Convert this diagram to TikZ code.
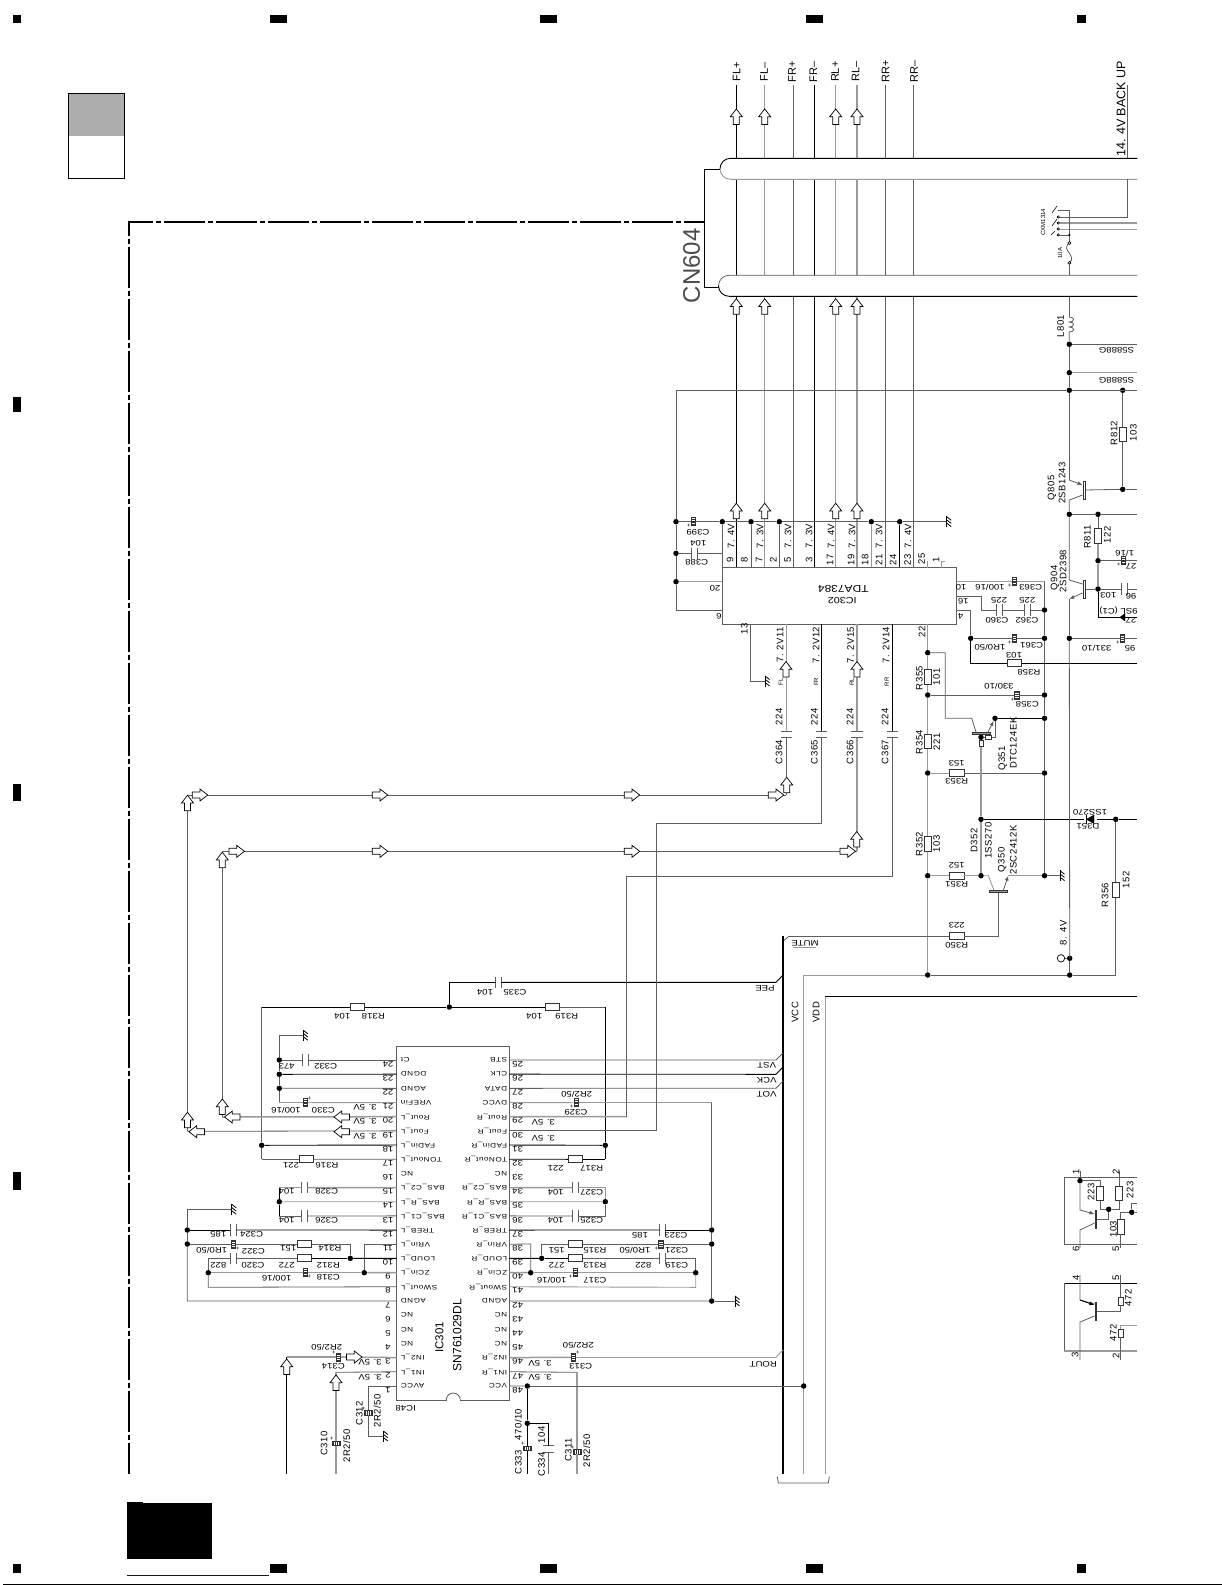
\documentclass[tikz,border=0pt]{standalone}
\usepackage{fontspec}
\setmainfont{Liberation Sans}
\newfontfamily\wideface[FakeStretch=1.2]{Liberation Sans}
\newfontfamily\pinface[FakeStretch=1.25,LetterSpace=8]{Liberation Sans}
\newfontfamily\sideface[LetterSpace=5]{Liberation Sans}
\usetikzlibrary{arrows.meta}
\definecolor{wirek}{HTML}{333333}
\definecolor{wireg}{HTML}{9A9A9A}
\definecolor{wirem}{HTML}{5E5E5E}
\tikzset{
  bk/.style={line width=0.9,black},
  md/.style={line width=0.8,wirem},
  gr/.style={line width=0.9,wireg},
  gt/.style={line width=1.5,wireg},
  dotj/.style={circle,fill=black,inner sep=0,minimum size=5.5},
  resh/.style={rectangle,draw=wirek,line width=0.7,inner sep=0,minimum width=14.5,minimum height=7},
  resv/.style={rectangle,draw=wirek,line width=0.7,inner sep=0,minimum width=7,minimum height=14.5},
  caph/.style={rectangle,inner sep=0,minimum width=5.5,minimum height=11,
    append after command={(\tikzlastnode.north west) edge[md] (\tikzlastnode.south west)
      (\tikzlastnode.north east) edge[md] (\tikzlastnode.south east)}},
  capv/.style={rectangle,inner sep=0,minimum width=11,minimum height=6,
    append after command={(\tikzlastnode.north west) edge[md] (\tikzlastnode.north east)
      (\tikzlastnode.south west) edge[md] (\tikzlastnode.south east)}},
  plusn/.style={inner sep=0,font=\fontsize{6}{6}\selectfont},
  ecaph/.style={rectangle,draw=wirek,line width=0.5,inner sep=0,minimum width=4.5,minimum height=8,
    label={[plusn]#1:+},
    path picture={\foreach \k in {-2.7,-0.9,0.9,2.7}
      \draw[line width=0.4] ([yshift=\k pt]path picture bounding box.west) -- ([yshift=\k pt]path picture bounding box.east);}},
  ecapv/.style={rectangle,draw=wirek,line width=0.5,inner sep=0,minimum width=8,minimum height=4.5,
    label={[plusn]#1:+},
    path picture={\foreach \k in {-2.7,-0.9,0.9,2.7}
      \draw[line width=0.4] ([xshift=\k pt]path picture bounding box.north) -- ([xshift=\k pt]path picture bounding box.south);}},
  qbarv/.style={rectangle,draw=wirek,line width=0.6,inner sep=0,minimum width=1.8,minimum height=18},
  qbarh/.style={rectangle,draw=wirek,line width=0.6,fill=wireg,inner sep=0,minimum width=18,minimum height=2.2},
  icbox/.style={rectangle,draw=wirem,line width=0.9,inner sep=0},
  txu/.style={inner sep=0,rotate=180,font=\wideface\fontsize{8}{8}\selectfont},
  txv/.style={inner sep=0,rotate=90,font=\sideface\fontsize{9.5}{9.5}\selectfont},
  txs/.style={inner sep=0,rotate=90,font=\fontsize{6}{6}\selectfont},
  pinno/.style={inner sep=0,rotate=180,font=\wideface\fontsize{8}{8}\selectfont},
  pinname/.style={inner sep=0,rotate=180,font=\pinface\fontsize{6.5}{6.5}\selectfont},
  blockarr/.pic={
    \draw[line width=0.7,black,fill=white] (-7.75,-3) -- (0,-3) -- (0,-6) -- (7.75,0) -- (0,6) -- (0,3) -- (-7.75,3) -- cycle;
  },
  gndsym/.pic={
    \draw[line width=0.8,black] (0,-5.5) -- (0,5.5);
    \foreach \k in {-5,-1.8,1.4} \draw[line width=0.8,black] (0,\k) -- (4.5,\k+3.5);
  }
}
\begin{document}
\begin{tikzpicture}[x=1pt,y=-1pt]
  \useasboundingbox (0,0) rectangle (1225,1585);
  % page marks
  \fill[black] (13,15) rectangle (21,23);
  \fill[black] (270,15) rectangle (287,23);
  \fill[black] (540,15) rectangle (557,23);
  \fill[black] (806,15) rectangle (823,23);
  \fill[black] (1077,15) rectangle (1086,23);
  \fill[black] (13,397) rectangle (21,412);
  \fill[black] (13,784) rectangle (21,801);
  \fill[black] (13,1172) rectangle (21,1190);
  \fill[black] (13,1564) rectangle (21,1573);
  \fill[black] (270,1564) rectangle (287,1573);
  \fill[black] (540,1564) rectangle (557,1573);
  \fill[black] (806,1564) rectangle (823,1573);
  \fill[black] (1077,1564) rectangle (1086,1573);
  \fill[black] (127,1503) rectangle (212,1559);
  \fill[black] (127,1502) rectangle (143,1504);
  \draw[line width=1,blue!80!black] (127,1575.5) -- (269,1575.5);
  \draw[line width=1,black] (3,1584.3) -- (1222,1584.3);
  \fill[black!32] (68,93) rectangle (124,136);
  \draw[line width=0.8,black] (68,93) rectangle (124,178);

  % outline
  \draw[line width=2,black,dash pattern=on 41 off 3 on 5 off 3,dash phase=15.4] (127.7,221.7) -- (704.3,221.7);
  \draw[line width=2,black,dash pattern=on 41 off 3 on 5 off 3,dash phase=26] (128.7,220.7) -- (128.7,1474);

  % parts, upper right
  \node[icbox,minimum width=233.7,minimum height=56.6] at (839.2,596) (IC302) {};
  \coordinate (tFLp) at (736.3,85);
  \coordinate (tFLm) at (764.7,85);
  \coordinate (tFRp) at (793.3,85);
  \coordinate (tFRm) at (814.3,85);
  \coordinate (tRLp) at (835.7,85);
  \coordinate (tRLm) at (857,85);
  \coordinate (tRRp) at (885.7,85);
  \coordinate (tRRm) at (913.7,85);
  \foreach \x/\y/\n in {676/521.7/jA,676/553.3/jB,676/581.7/jC,722.3/521.7/jD,751/521.7/jE,779.3/521.7/jF,
      871.3/521.7/jG,899.7/521.7/jH,1069.3/344.3/jL,1069.3/372.7/jM,1069.3/390.3/jN,1122.7/390.3/jP,
      1122.7/489.3/jQ,1069.3/514.3/jR,1098/514.3/jS,1098/560.7/jT,1098/589/jU,1069.3/638.3/jV,
      1044.5/610/jW,970.7/638.3/jX,1044.5/638.3/jY,1044.5/695/jZ,995/718.3/kA,1044.5/718.3/kB,
      1044.5/773/kC,1044.5/875.7/kD,927.7/652.7/kE,927.7/695/kF,927.7/773/kG,927.7/875.7/kH,
      927.7/975/kJ,981/737.3/kK,981/819.3/kL,981/875.7/kM,1069.7/958.3/kN,1069.7/975/kP,1115.7/819.3/kQ}
    \node[dotj] at (\x,\y) (\n) {};
  \node[ecaph={below left}] at (693.3,521.7) (C399) {};
  \node[caph] at (694.2,553.3) (C388) {};
  \node[ecaph={below left}] at (1014,581.7) (C363) {};
  \node[caph] at (999,610) (C360) {};
  \node[caph] at (1027.3,610) (C362) {};
  \node[ecaph={below left}] at (1014,638.3) (C361) {};
  \node[resh] at (1014.3,663.3) (R358) {};
  \node[ecaph={below left}] at (1016.7,695) (C358) {};
  \node[resh] at (956.7,773) (R353) {};
  \node[resh] at (956.7,875.7) (R351) {};
  \node[resh] at (956.7,936) (R350) {};
  \node[resv] at (927.7,677) (R355) {};
  \node[resv] at (927.7,741.3) (R354) {};
  \node[resv] at (927.7,844) (R352) {};
  \node[resv] at (1115.7,890) (R356) {};
  \node[resv] at (1122.7,434.5) (R812) {};
  \node[resv] at (1098,536) (R811) {};
  \node[ecaph={below left}] at (1123,560.7) (C3r1) {};
  \node[caph] at (1124,589) (C3r2) {};
  \node[ecaph={below left}] at (1122.3,638.3) (C3r3) {};
  \node[capv] at (786.3,734.3) (C364) {};
  \node[capv] at (821.7,734.3) (C365) {};
  \node[capv] at (857,734.3) (C366) {};
  \node[capv] at (892.3,734.3) (C367) {};
  \node[qbarv] at (1084.3,490) (Q805) {};
  \node[qbarv] at (1084.3,589) (Q904) {};
  \node[qbarh] at (981.5,733.3) (Q351) {};
  \node[qbarh] at (998.5,891.3) (Q350) {};
  \node[resv,minimum width=4,minimum height=6.5] at (981,743.5) (R3a) {};
  \node[resh,minimum width=6.5,minimum height=4] at (988.5,737.7) (R3b) {};
  \coordinate (gA) at (946.7,521.7);
  \coordinate (gB) at (765,681);
  \coordinate (gC) at (1060,875.7);
  \coordinate (gD) at (303.3,1035.3);
  \coordinate (gE) at (231.7,1209.3);
  \coordinate (gF) at (735,1301);
  \coordinate (gG) at (383.3,1436);

  % wires to CN604 and IC302
  \draw[bk] (tFLp) -- (tFLp |- IC302.north);
  \draw[gr] (tFLm) -- (tFLm |- IC302.north);
  \draw[md] (tFRp) -- (tFRp |- IC302.north);
  \draw[bk] (tFRm) -- (tFRm |- IC302.north);
  \draw[gr] (tRLp) -- (tRLp |- IC302.north);
  \draw[gt] (tRLm) -- (tRLm |- IC302.north);
  \draw[md] (tRRp) -- (tRRp |- IC302.north);
  \draw[md] (tRRm) -- (tRRm |- IC302.north);
  \draw[md] (jN) -| (jA);
  \draw[md] (jN) -- (jP);
  \draw[md] (jN) -- (1137.3,390.3);
  \draw[md] (jA) -- (jB);
  \draw[md] (jB) -- (jC);
  \draw[md] (jC) -- (676,610) -- (IC302.west |- 676,610);
  \draw[gt] (jC) -- (jC -| IC302.west);
  \draw[md] (jA) -- (C399);
  \draw[md] (C399) -- (jD);
  \draw[md] (jB) -- (C388);
  \draw[md] (C388) -| (jD);
  \draw[md] (jD) -- (jE);
  \draw[md] (jE) -- (jF);
  \draw[md] (jF) -- (jG);
  \draw[md] (jG) -- (jH);
  \draw[md] (jH) -- (gA);
  \draw[md] (jD) -- (jD |- IC302.north);
  \draw[md] (jE) -- (jE |- IC302.north);
  \draw[md] (jF) -- (jF |- IC302.north);
  \draw[gr] (jG) -- (jG |- IC302.north);
  \draw[bk] (jH) -- (jH |- IC302.north);
  \draw[gr] (927.7,561) -- (927.7,567.7);
  \draw[gr] (941.7,567.7) -- (941.7,561) -- (945,561);
  \draw[gr] (IC302.east |- C363) -- (C363);
  \draw[gr] (C363) -- (1044.5,581.7);
  \draw[md] (1044.5,581.7) -- (jW);
  \draw[md] (IC302.east |- 956,596.7) -- (981.7,596.7) |- (C360);
  \draw[md] (C360) -- (C362);
  \draw[md] (C362) -- (jW);
  \draw[md] (jW) -- (jY);
  \draw[md] (jY) -- (jZ);
  \draw[md] (jZ) -- (kB);
  \draw[md] (kB) -- (kC);
  \draw[md] (kC) -- (kD);
  \draw[md] (IC302.east |- 956,610) -- (970.7,610) -- (jX);
  \draw[md] (jX) -- (C361);
  \draw[md] (C361) -- (jY);
  \draw[bk] (jX) |- (R358);
  \draw[bk] (R358) -- (1137.3,663.3);
  \draw[md] (750.7,624.3) |- (gB);
  \draw[gr] (786.3,624.3) -- (C364);
  \draw[bk] (821.7,624.3) -- (C365);
  \draw[gt] (857,624.3) -- (C366);
  \draw[bk] (892.3,624.3) -- (C367);
  \draw[gt] (927.7,624.3) -- (kE);
  \draw[gr] (kE) -- (R355);
  \draw[gt] (R355) -- (kF);
  \draw[gt] (kF) -- (R354);
  \draw[gt] (R354) -- (kG);
  \draw[gt] (kG) -- (R352);
  \draw[gt] (R352) -- (kH);
  \draw[gt] (kH) -- (kJ);
  \draw[md] (kF) -- (C358);
  \draw[md] (C358) -- (jZ);
  \draw[bk] (kA) -- (kB);
  \draw[gr] (kG) -- (R353);
  \draw[md] (R353) -- (kC);
  \draw[gr] (kH) -- (R351);
  \draw[gr] (R351) -- (kM);
  \draw[gr] (kM) -- (988.3,875.7) -- (994,890.3);
  \draw[gr] (1008.3,875.7) -- (kD);
  \draw[md] (kD) -- (gC);
  \draw[md,-{Latex[length=5,width=4]}] (1003.3,890.3) -- (1008.3,875.7);
  \draw[md] (kE) -- (945.3,652.7) -- (945.3,718.3) -- (971.7,718.3) -- (976,732);
  \draw[md,-{Latex[length=5,width=4]}] (988,732) -- (kA);
  \draw[md] (kA) -- (995,737.7) -- (R3b);
  \draw[md] (R3b) -- (kK);
  \draw[gt] (R3a) -- (kL);
  \draw[gt] (kL) -- (kM);
  \draw[bk] (kL) -- (1084,819.3);
  \draw[bk] (kQ) -- (1097,819.3);
  \draw[bk] (kQ) -- (1137.3,819.3);
  \draw[black,fill=black] (1086.5,819.3) -- (1094,815) -- (1094,823.6) -- cycle;
  \draw[black,line width=0.8] (1086.5,815) -- (1086.5,823.6);
  \draw[md] (kQ) -- (R356);
  \draw[md] (R356) |- (kP);
  \draw[md] (kP) -- (kJ);
  \draw[gr] (kJ) -| (803.7,1386);
  \draw[md] (789.3,936) -- (R350);
  \draw[md] (R350) -| (Q350);
  \draw[md] (783,941) -- (789.3,936);
  \draw[gr] (793.3,947.3) -- (816,947.3);

  % CN604 band
  \draw[md] (jL) -- (jM);
  \draw[md] (jM) -- (jN);
  \draw[md] (jN) -- (1069.3,480);
  \draw[md] (jL) -- (1137.3,344.3);
  \draw[gt] (jM) -- (1137.3,372.7);
  \draw[md] (jP) -- (R812);
  \draw[md] (R812) -- (jQ);
  \draw[md] (Q805) -- (jQ);
  \draw[md] (jQ) -- (1137.3,489.3);
  \draw[md,{Latex[length=5,width=4]}-] (1082.5,485) -- (1069.3,480);
  \draw[md] (1082.5,495) -- (1069.3,500) -- (jR);
  \draw[md] (jR) -- (jS);
  \draw[md] (jS) -- (1137.3,514.3);
  \draw[md] (jR) -- (1069.3,580) -- (1082.5,584);
  \draw[md,{Latex[length=5,width=4]}-] (1069.3,599) -- (1082.5,593);
  \draw[md] (1069.3,599) -- (jV);
  \draw[md] (jV) -- (1069.7,958.3);
  \draw[md] (kN) -- (kP);
  \draw[md] (jS) -- (R811);
  \draw[gt] (R811) -- (jT);
  \draw[gt] (jT) -- (jU);
  \draw[md] (jT) -- (C3r1);
  \draw[md] (C3r1) -- (1137.3,560.7);
  \draw[md] (Q904) -- (jU);
  \draw[md] (jU) -- (C3r2);
  \draw[md] (C3r2) -- (1137.3,589);
  \draw[bk] (jU) |- (1137.3,617.3);
  \draw[black,fill=black] (1120,617.3) -- (1125,613.5) -- (1125,621) -- cycle;
  \draw[md] (jV) -- (C3r3);
  \draw[md] (C3r3) -- (1137.3,638.3);
  \draw[md] (1127.3,85) -- (1127.3,217) -- (1058.3,217);
  \draw[gt] (1058.3,223) -- (1137.3,223);
  \draw[gr] (1058.3,229) -- (1137.3,229);
  \draw[md] (1058.3,210) -- (1069.3,210) -- (1069.3,243);
  \draw[md] (1058.3,235) -- (1069.3,235);
  \fill[black] (1069.3,235) circle[radius=1.3pt];
  \draw[black,line width=0.6] (1052,213) -- (1057,206);
  \draw[black,line width=0.6] (1052,226) -- (1057,219);
  \draw[black,line width=0.6] (1051,235) -- (1055,231);
  \draw[black,line width=0.6,fill=white] (1058.3,217) circle[radius=1.2pt];
  \draw[black,line width=0.6,fill=white] (1058.3,223) circle[radius=1.2pt];
  \draw[black,line width=0.6,fill=white] (1058.3,229) circle[radius=1.2pt];
  \draw[black,line width=0.6,fill=white] (1058.3,235) circle[radius=1.2pt];
  \draw[md] (1069.3,243) .. controls (1060,250) and (1078,256) .. (1069.3,263);
  \draw[black,line width=0.6,fill=white] (1069.3,243) circle[radius=1.6pt];
  \draw[black,line width=0.6,fill=white] (1069.3,263) circle[radius=1.6pt];
  \draw[md] (1069.3,263) -- (1069.3,296.3) -- (1069.3,317);
  \draw[md] (1069.3,317) .. controls (1075,317) and (1075,322) .. (1069.3,322)
     .. controls (1075,322) and (1075,327) .. (1069.3,327)
     .. controls (1075,327) and (1075,332) .. (1069.3,332) -- (jL);
  \path[fill=white] (1137.3,158.3) -- (730.5,158.3) arc[start angle=90,end angle=270,radius=10.5pt] -- (1137.3,179.3) -- cycle;
  \path[fill=white] (1137.3,275.3) -- (729,275.3) arc[start angle=90,end angle=270,radius=10.5pt] -- (1137.3,296.3) -- cycle;
  \draw[black,line width=0.9] (1137.3,158.3) -- (730.5,158.3) arc[start angle=90,end angle=180,radius=10.5pt] coordinate (bandA);
  \draw[wireg,line width=0.9] (bandA) arc[start angle=180,end angle=270,radius=10.5pt] -- (1137.3,179.3);
  \draw[md] (1127.3,179.3) -- (1127.3,190);
  \draw[md] (1137.3,275.3) -- (729,275.3) arc[start angle=90,end angle=180,radius=10.5pt] coordinate (bandB);
  \draw[black,line width=0.9] (bandB) arc[start angle=180,end angle=270,radius=10.5pt] -- (1137.3,296.3);
  \draw[black,line width=0.9] (720,169.3) -- (704.3,169.3) -- (704.3,287.3) -- (718.5,287.3);

  % signal runs to IC301
  \draw[md] (C364) -- (786.3,795);
  \draw[md] (C365) |- (656.7,823.3);
  \draw[gt] (C366) -- (857,851.3);
  \draw[md] (C367) |- (626.7,876);

  % bus
  \draw[black,line width=2.5] (783,935.7) -- (783,1474);
  \draw[gr] (803.7,1386) -- (803.7,1474);
  \draw[bk] (1137.3,996.7) -- (825,996.7);
  \draw[gr] (825,996.7) -- (825,1474);
  \draw[md] (777.3,1476.7) -- (778.3,1483) -- (828.3,1483) -- (829.3,1476.7);

  % IC301
  \node[icbox,minimum width=112.6,minimum height=354] at (453,1223) (IC301) {};
  \foreach \n in {1,...,24} {
    \coordinate (L\n) at (396.7,{1060+14.17*(24-\n)});
    \node[pinno] at (388,{1064+14.17*(24-\n)}) (nL\n) {\n};
  }
  \foreach \n in {25,...,48} {
    \coordinate (R\n) at (509.3,{1060+14.17*(\n-25)});
    \node[pinno] at (517.7,{1064+14.17*(\n-25)}) (nR\n) {\n};
  }
  \foreach \t [count=\n] in {Ct,DGND,AGND,VREFin,Rout\_L,Fout\_L,FADin\_L,TONout\_L,NC,BAS\_C2\_L,BAS\_R\_L,BAS\_C1\_L,
      TREB\_L,VRin\_L,LOUD\_L,ZCin\_L,SWout\_L,AGND,NC,NC,NC,IN2\_L,IN1\_L,AVCC}
    \node[pinname,anchor=east] at (400.7,{1060+14.17*(\n-1)}) (pL\n) {\t};
  \foreach \t [count=\n] in {STB,CLK,DATA,DVCC,Rout\_R,Fout\_R,FADin\_R,TONout\_R,NC,BAS\_C2\_R,BAS\_R\_R,BAS\_C1\_R,
      TREB\_R,VRin\_R,LOUD\_R,ZCin\_R,SWout\_R,AGND,NC,NC,NC,IN2\_R,IN1\_R,VCC}
    \node[pinname,anchor=west] at (507.3,{1060+14.17*(\n-1)}) (pR\n) {\t};
  \draw[md,fill=white] (446.3,1400) arc[start angle=180,end angle=0,radius=7pt];
  \draw[white,line width=1.2] (447,1400) -- (459.6,1400);

  \foreach \x/\y/\n in {449.3/1007/mA,279.3/1060/mB,279.3/1074.3/mC,279.3/1088.3/mD,261.7/1145.3/mE,605.3/1145.3/mF,
      279.3/1201.7/mG,605.3/1201.7/mH,187.3/1230/mJ,187.3/1244/mK,350.3/1258.3/mL,364.3/1272.7/mM,208.3/1272.7/mN,
      711.7/1230/mP,711.7/1244/mQ,541.7/1258.3/mR,530.7/1272.7/mS,695.7/1272.7/mT,711.7/1301/mU,527.3/1386/mV,
      527.3/1423.3/mW,803.7/1386/mX}
    \node[dotj] at (\x,\y) (\n) {};
  \node[resh] at (357.5,1007) (R318) {};
  \node[resh] at (552.5,1007) (R319) {};
  \node[resh] at (306.3,1159.3) (R316) {};
  \node[resh] at (575.5,1159.3) (R317) {};
  \node[resh] at (304.5,1244) (R314) {};
  \node[resh] at (304.5,1258.3) (R312) {};
  \node[resh] at (575.5,1244) (R315) {};
  \node[resh] at (575.5,1258.3) (R313) {};
  \node[caph] at (498.5,982.3) (C335) {};
  \node[caph] at (305.5,1060) (C332) {};
  \node[ecaph={above right}] at (305,1102.7) (C330) {};
  \node[caph] at (304.5,1187.7) (C328) {};
  \node[caph] at (304.5,1216) (C326) {};
  \node[caph] at (233.3,1230) (C324) {};
  \node[ecaph={below right}] at (233.3,1244) (C322) {};
  \node[caph] at (233.3,1258.3) (C320) {};
  \node[ecaph={below right}] at (305,1272.7) (C318) {};
  \node[ecaph={above left}] at (338.3,1357) (C314) {};
  \node[ecapv={above left}] at (368.3,1412.7) (C312) {};
  \node[ecapv={above left}] at (336,1443.3) (C310) {};
  \node[ecaph={below left}] at (576,1102.7) (C329) {};
  \node[caph] at (575.3,1187.7) (C327) {};
  \node[caph] at (575.3,1216) (C325) {};
  \node[caph] at (662.5,1230) (C323) {};
  \node[ecaph={below left}] at (660.7,1244) (C321) {};
  \node[caph] at (662.5,1258.3) (C319) {};
  \node[ecaph={below left}] at (575,1272.7) (C317) {};
  \node[ecaph={above right}] at (573.3,1357.3) (C313) {};
  \node[ecapv={above left}] at (577,1451.7) (C311) {};
  \node[ecapv={above left}] at (527.3,1448.3) (C333) {};
  \node[capv] at (548.7,1449) (C334) {};

  \draw[bk] (261.7,1007) -- (R318);
  \draw[bk] (R318) -- (mA);
  \draw[bk] (mA) -- (R319);
  \draw[md] (R319) -- (605.3,1007);
  \draw[bk] (605.3,1007) -- (mF);
  \draw[bk] (mF) -- (605.3,1159.3);
  \draw[md] (261.7,1007) -- (mE);
  \draw[md] (mE) -- (261.7,1159.3);
  \draw[bk] (mA) |- (C335);
  \draw[bk] (C335) -- (776,982.3) -- (783,975);
  \draw[md] (261.7,1159.3) -- (R316);
  \draw[md] (R316) -- (L17);
  \draw[bk] (mE) -- (L18);
  \draw[bk] (R32) -- (R317);
  \draw[bk] (R317) -- (605.3,1159.3);
  \draw[bk] (R31) -- (mF);
  \draw[md] (279.3,1035.3) -- (gD);
  \draw[md] (279.3,1035.3) -- (mB);
  \draw[md] (mB) -- (mC);
  \draw[md] (mC) -- (mD);
  \draw[md] (mD) -- (279.3,1102.7);
  \draw[md] (mB) -- (C332);
  \draw[md] (C332) -- (L24);
  \draw[bk] (mC) -- (L23);
  \draw[md] (mD) -- (L22);
  \draw[gr] (279.3,1102.7) -- (C330);
  \draw[gr] (C330) -- (L21);
  \draw[gt] (222.3,1117) -- (L20);
  \draw[md] (187.3,1131.3) -- (L19);
  \draw[md] (222.3,851.3) -- (222.3,1117);
  \draw[md] (187.3,795) -- (187.3,1131.3);
  \draw[md] (187.3,795) -- (786.3,795);
  \draw[md] (222.3,851.3) -- (857,851.3);
  \draw[gt] (279.3,1187.7) -- (C328);
  \draw[gt] (C328) -- (L15);
  \draw[bk] (279.3,1187.7) -- (mG);
  \draw[bk] (mG) -- (279.3,1216);
  \draw[gr] (mG) -- (L14);
  \draw[md] (279.3,1216) -- (C326);
  \draw[md] (C326) -- (L13);
  \draw[bk] (mJ) -- (C324);
  \draw[bk] (C324) -- (L12);
  \draw[md] (gE) -- (187.3,1209.3) -- (mJ);
  \draw[md] (mJ) -- (mK);
  \draw[md] (mK) -- (187.3,1301) -- (L7);
  \draw[md] (mK) -- (C322);
  \draw[md] (C322) -- (R314);
  \draw[md] (R314) -| (mL);
  \draw[md] (L11) -| (mM);
  \draw[bk] (mL) -- (R312);
  \draw[bk] (mL) -- (L10);
  \draw[md] (R312) -- (C320);
  \draw[md] (C320) -| (mN);
  \draw[gt] (mN) -- (C318);
  \draw[gt] (C318) -- (mM);
  \draw[gt] (mM) -- (L9);
  \draw[md] (mN) -- (208.3,1287.3) -- (L8);
  \draw[gt] (286.7,1357) -- (C314);
  \draw[gt] (C314) -- (L3);
  \draw[bk] (286.7,1357) -- (286.7,1474);
  \draw[md] (336,1372.3) -- (L2);
  \draw[gt] (336,1372.3) -- (C310);
  \draw[gt] (C310) -- (336,1474);
  \draw[md] (L1) -| (C312);
  \draw[md] (C312) |- (gG);
  \draw[md] (R25) -- (776,1060) -- (783,1053);
  \draw[bk] (R26) -- (776,1074.3) -- (783,1067);
  \draw[md] (R27) -- (776,1088.3) -- (783,1081);
  \draw[gr] (R28) -- (C329);
  \draw[gr] (C329) -- (711.7,1102.7);
  \draw[md] (711.7,1102.7) -- (mP);
  \draw[md] (mP) -- (mQ);
  \draw[md] (mQ) -- (mU);
  \draw[gt] (R29) -- (626.7,1116.7);
  \draw[md] (626.7,876) -- (626.7,1116.7);
  \draw[md] (R30) -| (656.7,823.3);
  \draw[gt] (R34) -- (C327);
  \draw[gr] (C327) -- (605.3,1187.7) -- (mH);
  \draw[gr] (R35) -- (mH);
  \draw[md] (mH) -- (605.3,1216) -- (C325);
  \draw[md] (C325) -- (R36);
  \draw[bk] (R37) -- (C323);
  \draw[bk] (C323) -- (mP);
  \draw[md] (R38) -- (530.7,1244) -- (mS);
  \draw[md] (mR) |- (R315);
  \draw[md] (R315) -- (C321);
  \draw[md] (C321) -- (mQ);
  \draw[bk] (R39) -- (mR);
  \draw[bk] (mR) -- (R313);
  \draw[md] (R313) -- (C319);
  \draw[md] (C319) -| (mT);
  \draw[gt] (R40) -- (mS);
  \draw[gt] (mS) -- (C317);
  \draw[gt] (C317) -- (mT);
  \draw[gr] (mT) -- (695.7,1287.3) -- (R41);
  \draw[md] (R42) -- (mU);
  \draw[md] (mU) -- (gF);
  \draw[gt] (R46) -- (C313);
  \draw[gt] (C313) -- (776,1357.3);
  \draw[gr] (776,1357.3) -- (783,1350);
  \draw[md] (R47) -- (577,1372.3);
  \draw[gt] (577,1372.3) -- (C311);
  \draw[gt] (C311) -- (577,1474);
  \draw[md] (R48) -- (mV);
  \draw[md] (mV) -- (mX);
  \draw[bk] (mV) -- (mW);
  \draw[bk] (mW) -- (C333);
  \draw[bk] (C333) -- (527.3,1474);
  \draw[bk] (mW) -| (C334);
  \draw[md] (C334) -- (548.7,1474);

  % lower right blocks
  \foreach \x/\y/\n in {1080/1180.7/nA,1108.7/1209.3/nB,1131.7/1212.3/nC} \node[dotj] at (\x,\y) (\n) {};
  \node[resv] at (1100,1193.3) (Ra) {};
  \node[resv] at (1119,1193.3) (Rb) {};
  \node[resv] at (1120.7,1226.7) (Rc) {};
  \node[resv,minimum width=5,minimum height=8] at (1120.7,1301) (Rd) {};
  \node[resv,minimum width=5,minimum height=8] at (1120.7,1333) (Re) {};
  \node[qbarv] at (1095.7,1219) (Qa) {};
  \node[qbarv] at (1095.7,1311) (Qb) {};
  \draw[md] (1137.3,1177.3) -- (1064.3,1177.3) -- (1064.3,1244.3) -- (1137.3,1244.3);
  \draw[bk] (1137.3,1283.3) -- (1064.3,1283.3);
  \draw[md] (1064.3,1283.3) -- (1064.3,1351);
  \draw[gt] (1064.3,1351) -- (1137.3,1351);
  \draw[md] (1080,1170.7) -- (nA);
  \draw[md,-{Latex[length=5,width=4]}] (nA) -- (1080,1210) -- (1094.5,1214);
  \draw[md] (1094.5,1223) -- (1080,1230) -- (1080,1248);
  \draw[md] (nA) -| (Ra);
  \draw[md] (Ra) |- (nB);
  \draw[md] (nB) -| (Rb);
  \draw[md] (Rb) -- (1119,1170.7);
  \draw[md] (Qa) -| (nB);
  \draw[md] (Rc) |- (nC);
  \draw[md] (nC) -- (1137.3,1212.3);
  \draw[md] (nC) |- (1137.3,1203.3);
  \draw[md] (Rc) -- (1120.7,1248);
  \draw[md] (1080,1275) -- (1080,1300) -- (1094.5,1304);
  \draw[bk,-{Latex[length=5,width=4]}] (1080,1300) -- (1094.5,1305);
  \draw[md] (1094.5,1316) -- (1080,1322) -- (1080,1360);
  \draw[md] (Qb) -| (Rd);
  \draw[md] (Rd) -- (1120.7,1275);
  \draw[gr] (1137.3,1325) -- (1120.7,1325) -- (Re);
  \draw[md] (Re) -- (1120.7,1360);

  % ground symbols
  \pic at (gA) {gndsym};
  \pic at (gB) {gndsym};
  \pic at (gC) {gndsym};
  \pic at (gD) {gndsym};
  \pic at (gE) {gndsym};
  \pic at (gF) {gndsym};
  \pic at (gG) {gndsym};
  \draw[black,line width=0.7] (1061,958.3) circle[radius=3.7pt];
  \draw[md] (1064.7,958.3) -- (kN);

  % hollow arrows
  \foreach \x/\y in {736.3/116.7,764.7/116.7,835.7/116.7,857/116.7,
      736.3/306.5,764.7/306.5,835.7/306.5,857/306.5,
      736.3/511,764.7/511,835.7/511,857/511,786/669.3,857/669.3,
      786.7/785,856.7/839.3,187.5/803,222.3/860,187.5/1120,222.3/1106.7,
      286.7/1366.7,336/1382.7}
    \pic[rotate=90] at (\x,\y) {blockarr};
  \foreach \x/\y in {776/795,380/795,632/795,200/795,
      847.7/851.3,380/851.3,632/851.3,236.7/851.3,354.3/1357}
    \pic at (\x,\y) {blockarr};
  \foreach \x/\y in {196.7/1131.7,232.3/1117,341.7/1117,341.7/1131.7}
    \pic[rotate=180] at (\x,\y) {blockarr};

  % big labels
  \node[inner sep=0,rotate=90,text=black!70,font=\fontsize{24}{24}\selectfont] at (691.7,265.7) (tCN) {CN604};
  \node[inner sep=0,rotate=90,font=\fontsize{12.5}{12.5}\selectfont] at (1121,109) (tBU) {14. 4V BACK UP};
  \foreach \x/\t [count=\n] in {736.5/FL+,764/FL--,792/FR+,813.3/FR--,835/RL+,855.7/RL--,885.7/RR+,914/RR--}
    \node[inner sep=0,rotate=90,font=\fontsize{11}{11}\selectfont] at (\x,71.7) (tTop\n) {\t};
  \node[inner sep=0,rotate=90,font=\fontsize{11.5}{11.5}\selectfont] at (439.3,1337.5) (tIC301) {IC301};
  \node[inner sep=0,rotate=90,font=\fontsize{12}{12}\selectfont] at (457.3,1335) (tSN) {SN761029DL};
  \node[inner sep=0,rotate=180,font=\wideface\fontsize{10}{10}\selectfont] at (843.3,589) (tTDA) {TDA7384};
  \node[inner sep=0,rotate=180,font=\wideface\fontsize{9}{9}\selectfont] at (842.3,601) (tIC302) {IC302};

  % upside-down labels
  \foreach \x/\y/\t [count=\n] in {1116.5/350/S5888G,1116.5/380/S5888G,698/532.3/C399,698.3/543.3/104,696.7/562.7/C388,
      990/587.3/{100/16},961/587.3/10,1030.7/587.3/C363,963.3/601.7/16,960.7/616/4,715/588.3/20,719/616.7/6,
      999/600/225,1027.3/600/225,997/620.7/C360,1027/620.7/C362,990/647.7/{1R0/50},1031.7/645.7/C361,
      1014/655/103,1029/672.3/R358,1096.7/648/{331/10},1108.3/595.7/103,1124.7/553.3/{1/16},1131/566/27,1131/596/96,
      1118.5/610.3/{9SL (C1)},1131/620/27,1130/648/95,
      999/686/{330/10},1027.3/704/C358,956.7/763.3/153,956.7/781.7/R353,956.7/865.7/152,956.7/884.7/R351,
      956.7/925.3/223,956.7/945/R350,1090/812.3/1SS270,1088/826.7/D351,805/943.3/MUTE,765/988/PEE,
      342.3/1016/104,373.3/1016/R318,534.3/1016/104,566.7/1016/R319,485/992.7/104,515/992.7/C335,
      286.7/1066.7/473,325.7/1066.7/C332,286/1110/{100/16},323.3/1110/C330,365/1107.3/{3. 5V},365/1121.7/{3. 5V},365/1136/{3. 5V},
      291/1165/221,327/1165/R316,555.7/1168/221,591.7/1168/R317,286.7/1191/104,326.7/1191/C328,286.7/1220/104,326.7/1220/C326,
      218.3/1234.3/185,251.7/1234.3/C324,211.7/1250/{1R0/50},253.3/1251/C322,288.3/1248/151,330/1248/R314,
      218.3/1265.7/822,253/1265.7/C320,286.7/1265.7/272,328.3/1265.7/R312,276.7/1278.3/{100/16},328.3/1277.7/C318,
      326.7/1347.3/{2R2/50},333.3/1366.7/C314,370/1362.7/{3. 5V},370/1377.3/{3. 5V},405.7/1408.3/IC48,
      766.7/1065.7/VST,766.7/1080/VCK,766.7/1094.3/VOT,576.7/1094.3/{2R2/50},576/1112/C329,
      543.3/1122.3/{3. 5V},543.3/1138.3/{3. 5V},555.7/1192.3/104,591.7/1192.3/C327,555.7/1220.7/104,591.7/1220.7/C325,
      640/1235/185,676/1235/C323,556.7/1250/151,595/1250/R315,635/1250/{1R0/50},676.7/1250/C321,
      556.7/1265.7/272,595/1265.7/R313,643.3/1265.7/822,676.7/1265.7/C319,551.7/1280/{100/16},595/1280/C317,
      578.3/1345/{2R2/50},580.7/1366/C313,540/1363.3/{3. 5V},540/1377.3/{3. 5V},763.3/1364/ROUT}
    \node[txu] at (\x,\y) (tu\n) {\t};
  % sideways labels
  \foreach \x/\y/\t [count=\n] in {1060.6/326/L801,1114/433/R812,1133.3/433/103,1052/488/Q805,1062/483/2SB1243,
      1087.3/537/R811,1107.3/535/122,1055/578/Q904,1063/571/2SD2398,
      730/560/9,744.3/560/8,759/560/7,773.3/560/2,787.7/560/5,809/560/3,830/560/17,851/560/19,865/560/18,879/560/21,
      893/560/24,907.7/560/23,921.7/559/25,936/560/1,
      731/536/{7. 4V},760/536/{7. 3V},788/536/{7. 3V},809/536/{7. 3V},831/536/{7. 4V},852/536/{7. 3V},879/536/{7. 3V},908/536/{7. 4V},
      744.3/629/13,922/631.7/22,780/645/{7. 2V11},816/645/{7. 2V12},850.7/645/{7. 2V15},886/645/{7. 2V14},
      779/716.7/224,814.3/716.7/224,850/716.7/224,885/716.7/224,779/752/C364,814.3/752/C365,850/752/C366,885/752/C367,
      919.3/678/R355,936.7/677/101,919.3/742/R354,936.7/742/221,919.3/844/R352,936.7/844/103,
      974/840.7/D352,988.3/840.7/1SS270,1002.7/758.3/Q351,1013.3/743.3/DTC124EK,1002.3/860/Q350,1013.3/850/2SC2412K,
      1063.3/932.7/{8. 4V},1105/895/R356,1126/880/152,795/1012.3/VCC,816/1012.3/VDD,
      324/1443.3/C310,346.7/1446/{2R2/50},359.3/1413/C312,377.3/1411/{2R2/50},
      518.3/1424.5/{470/10},518.3/1462/C333,541.7/1435/104,541.7/1464/C334,568.3/1450/C311,586.7/1451/{2R2/50},
      1076/1171.7/1,1116/1171.7/2,1076/1249.3/6,1116/1249.3/5,1091/1192/223,1130/1190/223,1113.3/1229.3/103,
      1076/1277.7/4,1116/1278/5,1075/1355/3,1116/1355.7/2,1128.3/1298/472,1113.3/1333/472}
    \node[txv] at (\x,\y) (tv\n) {\t};
  \foreach \x/\y/\t [count=\n] in {1043/222/CXM1314,1060/253/10A,780.7/681.7/FL,816/681.7/FR,851.7/681.7/RL,886.7/681.7/RR}
    \node[txs] at (\x,\y) (ts\n) {\t};
\end{tikzpicture}
\end{document}
